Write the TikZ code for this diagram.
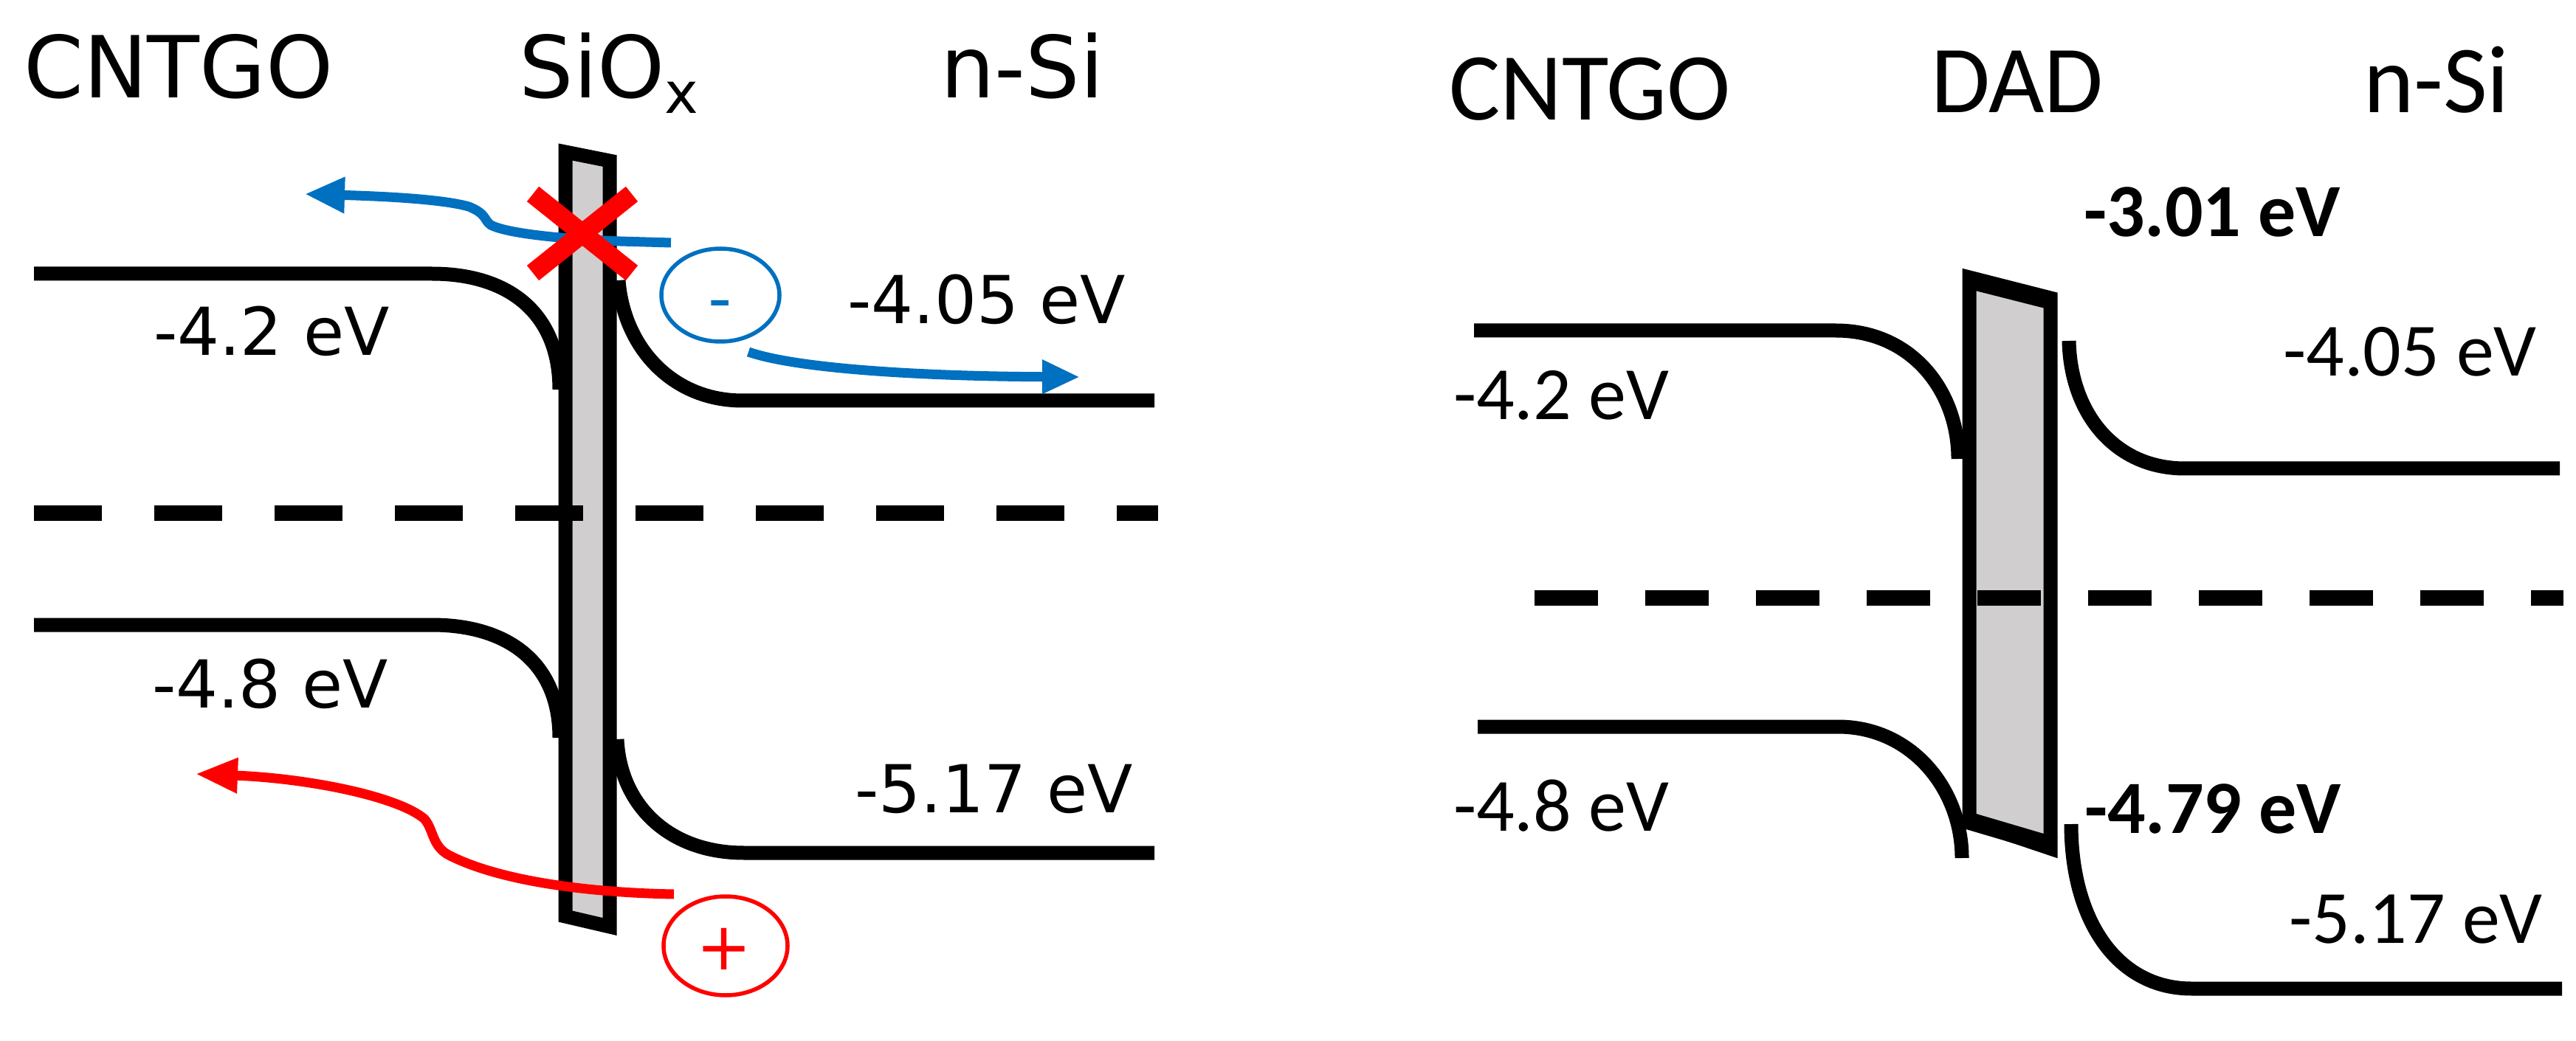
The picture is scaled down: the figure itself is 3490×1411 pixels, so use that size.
\documentclass[tikz,border=0pt]{standalone}
\usepackage{fontspec}
\setmainfont{DejaVu Sans}
\newfontfamily\lfont{DejaVu Sans}
\newfontfamily\rfont{Carlito}
\usetikzlibrary{arrows.meta,shapes.geometric}
\definecolor{barfill}{RGB}{208,206,206}
\definecolor{eblue}{RGB}{0,112,192}
\definecolor{hred}{RGB}{255,0,0}
\begin{document}
\begin{tikzpicture}[x=0.1mm,y=-0.1mm,
  band/.style={line width=1.9mm, line cap=butt},
  fermiL/.style={line width=2.1mm, dash pattern=on 9.2mm off 7.1mm},
  fermiR/.style={line width=2.1mm, dash pattern=on 8.6mm off 6.4mm},
  barshape/.style={fill=barfill, draw=black, line width=1.9mm, line join=miter},
  ltitle/.style={font=\lfont\fontsize{33}{40}\selectfont, inner sep=0, anchor=base},
  llab/.style={font=\lfont\fontsize{25.5}{30}\selectfont, inner sep=0, anchor=base},
  rtitle/.style={font=\rfont\fontsize{37}{44}\selectfont, inner sep=0, anchor=base},
  rlab/.style={font=\rfont\fontsize{29}{35}\selectfont, inner sep=0, anchor=base},
  rlabb/.style={font=\rfont\bfseries\fontsize{29}{35}\selectfont, inner sep=0, anchor=base},
  carrier/.style={ellipse, draw, line width=0.55mm, inner sep=0},
  flowblue/.style={draw=eblue, line width=1.3mm, -{Triangle[length=5.4mm,width=4.6mm]}},
  flowred/.style={draw=hred, line width=1.3mm, -{Triangle[length=5.7mm,width=4.5mm]}}
]
\useasboundingbox (0,0) rectangle (3490,1411);
\fill[white] (0,0) rectangle (3490,1411);

% ================= LEFT PANEL =================
\node[ltitle] (lcntgo) at (242,133) {CNTGO};
\node[ltitle] (lsiox) at (825,133) {SiO\raisebox{-5.7pt}{\fontsize{22}{26}\selectfont x}};
\node[ltitle] (lnsi) at (1385,133) {n-Si};

% barrier
\path[barshape] (766,206) -- (826,218) -- (826,1256) -- (766,1242) -- cycle;

% Fermi level
\draw[fermiL] (46,696) -- (1569,696);

% bands
\draw[band] (46,371) -- (585,371) .. controls (690,371) and (758,425) .. (758,528);
\draw[band] (838,380) .. controls (845,470) and (910,543) .. (1006,543) -- (1564,543);
\draw[band] (46,847) -- (585,847) .. controls (690,847) and (758,900) .. (758,1000);
\draw[band] (836,1002) .. controls (840,1090) and (905,1156) .. (1008,1156) -- (1564,1156);

% labels
\node[llab] (l42) at (368,482) {-4.2 eV};
\node[llab] (l405) at (1337,439) {-4.05 eV};
\node[llab] (l48) at (366,959) {-4.8 eV};
\node[llab] (l517) at (1347,1101) {-5.17 eV};

% electron
\node[carrier, draw=eblue, minimum width=16mm, minimum height=12.6mm] (elec) at (976,400) {};
\node[text=eblue, font=\lfont\fontsize{25.5}{30}\selectfont, inner sep=0] (elect) at (976,421) {-};
\path[flowblue] (909,329) -- (840,327) .. controls (780,325) and (690,318) .. (665,305)
   .. controls (655,298) and (660,290) .. (635,280) .. controls (600,270) and (520,266) .. (413,263);
\path[flowblue, -{Triangle[length=5.1mm,width=4.3mm]}] (1014,477) .. controls (1080,500) and (1250,510) .. (1463,511);

% blocked
\draw[hred, line width=2.6mm] (722,263) -- (856,370);
\draw[hred, line width=2.6mm] (722,370) -- (856,263);

% hole
\node[carrier, draw=hred, minimum width=16.8mm, minimum height=13.4mm] (hole) at (983,1282) {};
\node[text=hred, font=\lfont\fontsize{25.5}{30}\selectfont, inner sep=0] (holet) at (981,1286) {+};
\path[flowred] (913,1212) .. controls (800,1210) and (680,1195) .. (610,1160)
   .. controls (585,1148) and (588,1125) .. (575,1110) .. controls (540,1080) and (420,1055) .. (265,1049);

% ================= RIGHT PANEL =================
\node[rtitle] (rcntgo) at (2154,163) {CNTGO};
\node[rtitle] (rdad) at (2733,153) {DAD};
\node[rtitle] (rnsi) at (3301,153) {n-Si};

\path[barshape] (2668,376) -- (2778,404) -- (2778,1150) -- (2668,1113) -- cycle;
\draw[line width=2.4mm] (2662,378) -- (2784,409);
\draw[line width=2.4mm] (2662,1111) -- (2784,1147);

\draw[fermiR] (2079,810) -- (3473,810);

\draw[band] (1997,448) -- (2487,448) .. controls (2590,448) and (2653,530) .. (2653,622);
\draw[band] (2803,462) .. controls (2805,560) and (2865,635) .. (2960,635) -- (3468,635);
\draw[band] (2002,985) -- (2490,985) .. controls (2590,985) and (2658,1070) .. (2658,1163);
\draw[band] (2806,1117) .. controls (2806,1250) and (2870,1340) .. (2969,1340) -- (3471,1340);

\node[rlabb] (r301) at (2997,321) {-3.01 eV};
\node[rlab] (r42) at (2115,569) {-4.2 eV};
\node[rlab] (r405) at (3265,510) {-4.05 eV};
\node[rlab] (r48) at (2115,1126) {-4.8 eV};
\node[rlabb] (r479) at (2998,1129) {-4.79 eV};
\node[rlab] (r517) at (3273,1278) {-5.17 eV};
\end{tikzpicture}
\end{document}
